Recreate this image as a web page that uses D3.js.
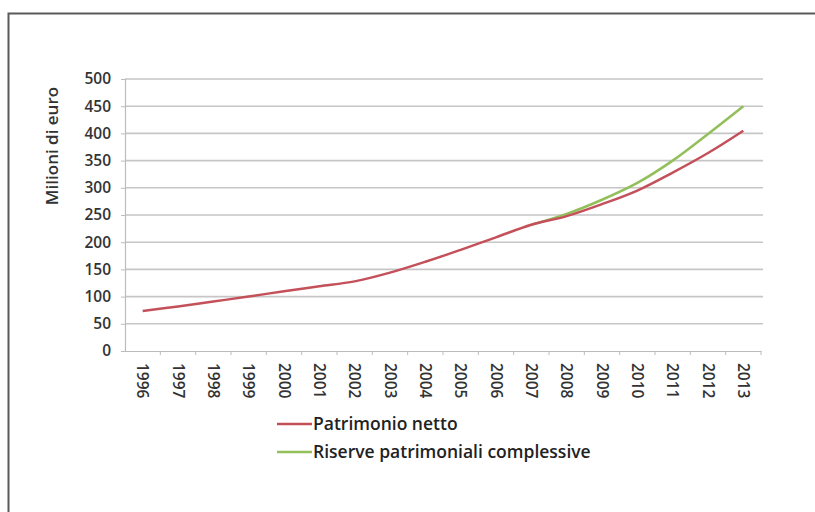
<!DOCTYPE html>
<html>
<head>
<meta charset="utf-8">
<script src="https://cdn.jsdelivr.net/npm/d3@7"></script>
<style>
  html, body { margin: 0; padding: 0; background: #fff; }
  svg { display: block; }
  text { font-family: "Open Sans", Lato, sans-serif; }
</style>
</head>
<body>
<script>
const years = ["1996","1997","1998","1999","2000","2001","2002","2003","2004","2005","2006","2007","2008","2009","2010","2011","2012","2013"];
const patrimonioNetto = [73.5, 82, 91, 100, 110, 119, 128, 144, 164, 186, 209, 232, 248, 270, 295, 328, 364, 405];
const riserveYears = ["2007","2008","2009","2010","2011","2012","2013"];
const riserveComplessive = [232, 252, 278, 309, 350, 399, 450];
const yTicks = [0, 50, 100, 150, 200, 250, 300, 350, 400, 450, 500];
const seriesNames = ["Patrimonio netto", "Riserve patrimoniali  complessive"];
const yTitle = "Milioni di euro";

const W = 815, H = 512;
const svg = d3.select("body").append("svg").attr("width", W).attr("height", H);

// frame
svg.append("path")
  .attr("d", `M8.5,${H} V13.5 H${W}`)
  .attr("fill", "none").attr("stroke", "#5a5a5a").attr("stroke-width", 2);

const x0 = 125, x1 = 761, yTop = 79, yBot = 351;
const x = d3.scaleBand().domain(years).range([x0, x1]);
const y = d3.scaleLinear().domain([0, 500]).range([yBot, yTop]);

// gridlines
svg.append("g").selectAll("line").data(yTicks.filter(d => d > 0)).join("line")
  .attr("x1", x0).attr("x2", x1 + 2)
  .attr("y1", d => y(d)).attr("y2", d => y(d))
  .attr("stroke", "#c6c6c6").attr("stroke-width", 1.6);

// y axis
const yAxis = d3.axisLeft(y).tickValues(yTicks).tickSize(4).tickPadding(10);
const gy = svg.append("g").attr("transform", `translate(${x0},0)`).call(yAxis);
gy.select(".domain").attr("stroke", "#bcbcbc").attr("stroke-width", 1.2);
gy.selectAll(".tick line").attr("stroke", "#bcbcbc");
gy.selectAll(".tick text").attr("fill", "#333").attr("font-size", 15.5).attr("font-weight", 600)
  .attr("font-family", "'Open Sans', sans-serif");

// x axis
const xAxis = d3.axisBottom(x).tickSize(0).tickPadding(0);
const gx = svg.append("g").attr("transform", `translate(0,${yBot})`).call(xAxis);
gx.select(".domain").attr("stroke", "#bcbcbc").attr("stroke-width", 1.2);
gx.selectAll(".tick text")
  .attr("fill", "#333").attr("font-size", 15.5).attr("font-weight", 600)
  .attr("font-family", "'Open Sans', sans-serif")
  .attr("text-anchor", "start")
  .attr("dy", "0.35em").attr("y", 0).attr("x", 12)
  .attr("transform", "rotate(90)");
// category boundary ticks
svg.append("g").selectAll("line").data(years.slice(1).concat(["end"])).join("line")
  .attr("x1", (d, i) => x0 + (i + 1) * x.bandwidth())
  .attr("x2", (d, i) => x0 + (i + 1) * x.bandwidth())
  .attr("y1", yBot).attr("y2", yBot + 4)
  .attr("stroke", "#bcbcbc").attr("stroke-width", 1);

// y title
svg.append("text")
  .attr("transform", `translate(52,146) rotate(-90)`)
  .attr("text-anchor", "middle").attr("dy", "0.35em")
  .attr("font-size", 17).attr("font-weight", 600).attr("fill", "#333")
  .text(yTitle);

// lines
const cx = d => x(d) + x.bandwidth() / 2;
const line = d3.line().curve(d3.curveCatmullRom.alpha(0.5));
const redColor = "#c4505a", greenColor = "#93bf5a";

svg.append("path")
  .attr("d", line(riserveYears.map((yr, i) => [cx(yr), y(riserveComplessive[i])])))
  .attr("fill", "none").attr("stroke", greenColor).attr("stroke-width", 2.5);
svg.append("path")
  .attr("d", line(years.map((yr, i) => [cx(yr), y(patrimonioNetto[i])])))
  .attr("fill", "none").attr("stroke", redColor).attr("stroke-width", 2.5);

// legend
const legend = svg.append("g");
const colors = [redColor, greenColor];
seriesNames.forEach((name, i) => {
  const ly = 424 + i * 28;
  legend.append("line").attr("x1", 277).attr("x2", 312).attr("y1", ly).attr("y2", ly)
    .attr("stroke", colors[i]).attr("stroke-width", 2.5);
  legend.append("text").attr("x", 313).attr("y", ly).attr("dy", "0.35em")
    .attr("font-size", 17.5).attr("font-weight", 600).attr("fill", "#222")
    .text(name);
});
</script>
</body>
</html>
